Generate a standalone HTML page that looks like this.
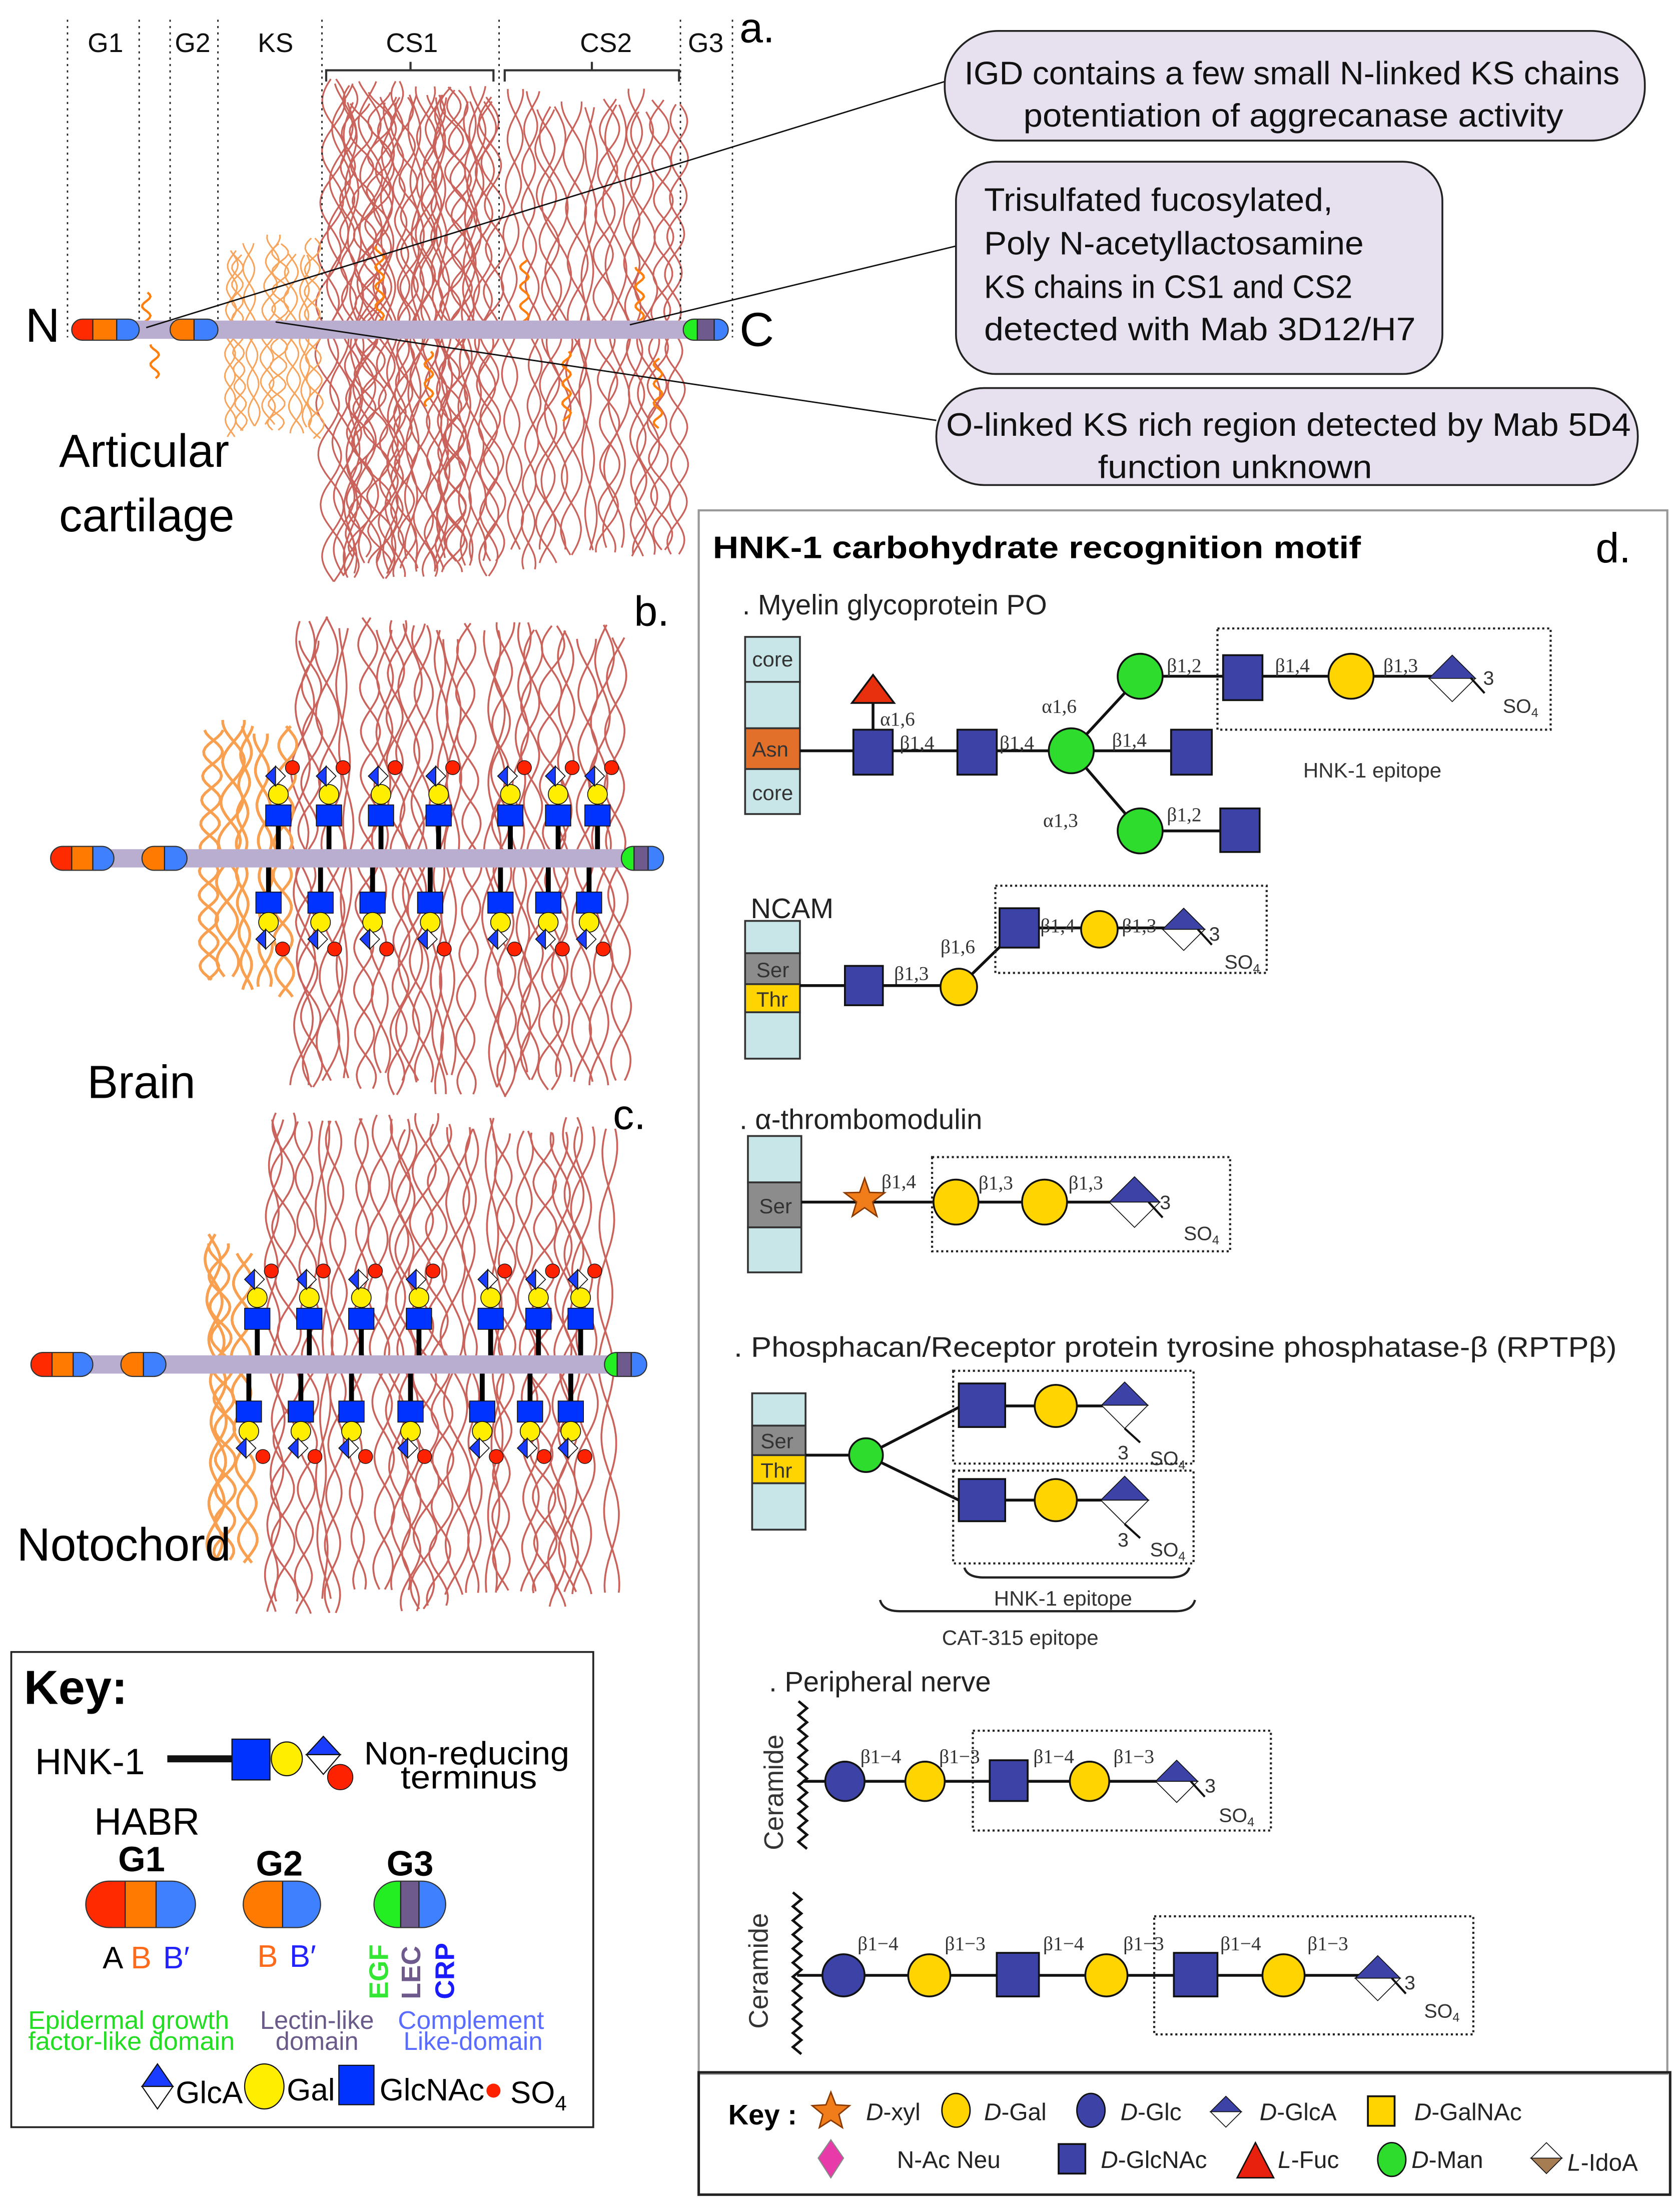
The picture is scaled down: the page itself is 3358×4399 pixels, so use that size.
<!DOCTYPE html>
<html><head><meta charset="utf-8"><style>html,body{margin:0;padding:0;background:#fff}svg{display:block}</style></head>
<body>
<svg id="s" xmlns="http://www.w3.org/2000/svg" width="3358" height="4399" viewBox="0 0 1195 1565.5" font-family="'Liberation Sans', sans-serif">
<rect width="1195" height="1565.5" fill="#fff"/>
<g id="strands"></g>
<g stroke="#222" stroke-width="1" stroke-dasharray="1.5 3">
<line x1="48" y1="14" x2="48" y2="240"/><line x1="99" y1="14" x2="99" y2="230"/><line x1="121" y1="14" x2="121" y2="230"/><line x1="155" y1="14" x2="155" y2="240"/><line x1="229" y1="14" x2="229" y2="240"/><line x1="355" y1="14" x2="355" y2="240"/><line x1="484" y1="14" x2="484" y2="240"/><line x1="521" y1="14" x2="521" y2="240"/>
</g>
<g font-size="19" fill="#111" text-anchor="middle">
<text x="75" y="37">G1</text><text x="137" y="37">G2</text><text x="196" y="37">KS</text><text x="293" y="37">CS1</text><text x="431" y="37">CS2</text><text x="502" y="37">G3</text>
</g>
<text x="526" y="30" font-size="30">a.</text>
<path d="M232 58 V50 H351 V58 M292 50 V44" fill="none" stroke="#333" stroke-width="1.5"/>
<path d="M359 58 V50 H483 V58 M421 50 V44" fill="none" stroke="#333" stroke-width="1.5"/>
<g id="bars"></g>
<text x="18" y="243" font-size="34">N</text>
<text x="526" y="246" font-size="34">C</text>
<text x="42" y="332" font-size="33">Articular</text>
<text x="42" y="378" font-size="33">cartilage</text>
<g stroke="#111" stroke-width="1"><line x1="104" y1="233" x2="672" y2="58"/><line x1="448" y1="231" x2="680" y2="175"/><line x1="196" y1="229" x2="666" y2="299"/></g>
<g fill="#e7e1ef" stroke="#222" stroke-width="1.3">
<rect x="672" y="22" width="498" height="78" rx="38"/>
<rect x="680" y="115" width="346" height="151" rx="28"/>
<rect x="666" y="276" width="499" height="69" rx="34"/>
</g>
<g font-size="23" fill="#111">
<text x="686" y="60" textLength="466" lengthAdjust="spacingAndGlyphs">IGD contains a few small N-linked KS chains</text>
<text x="728" y="90" textLength="384" lengthAdjust="spacingAndGlyphs">potentiation of aggrecanase activity</text>
<text x="700" y="150" textLength="248" lengthAdjust="spacingAndGlyphs">Trisulfated fucosylated,</text>
<text x="700" y="181" textLength="270" lengthAdjust="spacingAndGlyphs">Poly N-acetyllactosamine</text>
<text x="700" y="212" textLength="262" lengthAdjust="spacingAndGlyphs">KS chains in CS1 and CS2</text>
<text x="700" y="242" textLength="307" lengthAdjust="spacingAndGlyphs">detected with Mab 3D12/H7</text>
<text x="673" y="310" textLength="487" lengthAdjust="spacingAndGlyphs">O-linked KS rich region detected by Mab 5D4</text>
<text x="781" y="340" textLength="195" lengthAdjust="spacingAndGlyphs">function unknown</text>
</g>
<text x="451" y="445" font-size="30">b.</text>
<text x="62" y="781" font-size="33">Brain</text>
<text x="436" y="803" font-size="30">c.</text>
<text x="12" y="1110" font-size="33">Notochord</text>
<g id="units"></g>

<rect x="8" y="1175" width="414" height="338" fill="none" stroke="#222" stroke-width="1.3"/>
<text x="17" y="1212" font-size="34" font-weight="bold">Key:</text>
<text x="25" y="1262" font-size="26">HNK-1</text>
<line x1="119" y1="1251" x2="166" y2="1251" stroke="#111" stroke-width="5"/>
<rect x="165" y="1237" width="27" height="29" fill="#0033ff" stroke="#111" stroke-width="0.8"/>
<ellipse cx="204" cy="1251" rx="11" ry="12" fill="#ffee00" stroke="#111" stroke-width="0.8"/>
<path d="M218 1248 L230 1235 L242 1248 Z" fill="#1a3cff" stroke="#111" stroke-width="0.8"/>
<path d="M218 1248 L230 1262 L242 1248 Z" fill="#fff" stroke="#111" stroke-width="0.8"/>
<circle cx="242" cy="1264" r="9" fill="#ff2200" stroke="#111" stroke-width="0.6"/>
<text x="259" y="1255" font-size="23" textLength="146" lengthAdjust="spacingAndGlyphs">Non-reducing</text>
<text x="285" y="1272" font-size="23" textLength="97" lengthAdjust="spacingAndGlyphs">terminus</text>
<text x="67" y="1305" font-size="27">HABR</text>
<g font-size="25" font-weight="bold"><text x="84" y="1331">G1</text><text x="182" y="1334">G2</text><text x="275" y="1334">G3</text></g>
<g font-size="22"><text x="73" y="1400">A</text><text x="93" y="1400" fill="#ff6a1a">B</text><text x="116" y="1400" fill="#2222ff">B′</text><text x="183" y="1399" fill="#ff6a1a">B</text><text x="206" y="1399" fill="#2222ff">B′</text></g>
<g font-size="19" font-weight="bold">
<text transform="translate(276 1422) rotate(-90)" fill="#33e633">EGF</text>
<text transform="translate(299 1422) rotate(-90)" fill="#6f5a8e">LEC</text>
<text transform="translate(323 1422) rotate(-90)" fill="#1a1aff">CRP</text>
</g>
<g font-size="18">
<text x="20" y="1443" fill="#22dd22" textLength="143" lengthAdjust="spacingAndGlyphs">Epidermal growth</text>
<text x="20" y="1458" fill="#22dd22" textLength="147" lengthAdjust="spacingAndGlyphs">factor-like domain</text>
<text x="185" y="1443" fill="#6a5a8a" textLength="81" lengthAdjust="spacingAndGlyphs">Lectin-like</text>
<text x="196" y="1458" fill="#6a5a8a">domain</text>
<text x="283" y="1443" fill="#5a6cff" textLength="104" lengthAdjust="spacingAndGlyphs">Complement</text>
<text x="287" y="1458" fill="#5a6cff" textLength="99" lengthAdjust="spacingAndGlyphs">Like-domain</text>
</g>
<path d="M101 1484 L112 1468 L123 1484 Z" fill="#1a3cff" stroke="#111" stroke-width="0.8"/>
<path d="M101 1484 L112 1500 L123 1484 Z" fill="#fff" stroke="#111" stroke-width="0.8"/>
<ellipse cx="188" cy="1484" rx="14" ry="16" fill="#ffee00" stroke="#111" stroke-width="0.8"/>
<rect x="241" y="1469" width="25" height="28" fill="#0033ff" stroke="#111" stroke-width="0.8"/>
<circle cx="351" cy="1487" r="5" fill="#ff2200"/>
<g font-size="22"><text x="125" y="1496">GlcA</text><text x="204" y="1494">Gal</text><text x="270" y="1494">GlcNAc</text><text x="363" y="1496">SO<tspan font-size="15" dy="5">4</tspan></text></g>

<rect x="497" y="363" width="689" height="1112" fill="none" stroke="#999" stroke-width="1.5"/>
<rect x="497" y="1474" width="691" height="87" fill="none" stroke="#222" stroke-width="1.8"/>
<text x="507" y="397" font-size="22" font-weight="bold" textLength="461" lengthAdjust="spacingAndGlyphs">HNK-1 carbohydrate recognition motif</text>
<text x="1135" y="400" font-size="30">d.</text>
<g font-size="20" fill="#222">
<text x="528" y="437">. Myelin glycoprotein PO</text>
<text x="534" y="653">NCAM</text>
<text x="526" y="803">. α-thrombomodulin</text>
<text x="522" y="965" textLength="628" lengthAdjust="spacingAndGlyphs">. Phosphacan/Receptor protein tyrosine phosphatase-β (RPTPβ)</text>
<text x="547" y="1203">. Peripheral nerve</text>
</g>
<g id="dshapes"></g>
<g font-family="'Liberation Serif', serif" font-size="14" fill="#333">
<text x="626" y="516">α1,6</text><text x="640" y="533">β1,4</text><text x="711" y="533">β1,4</text>
<text x="741" y="507">α1,6</text><text x="742" y="588">α1,3</text><text x="791" y="531">β1,4</text>
<text x="830" y="478">β1,2</text><text x="907" y="478">β1,4</text><text x="984" y="478">β1,3</text>
<text x="830" y="584">β1,2</text>
<text x="636" y="697">β1,3</text><text x="669" y="678">β1,6</text><text x="740" y="663">β1,4</text><text x="798" y="663">β1,3</text>
<text x="627" y="845">β1,4</text><text x="696" y="846">β1,3</text><text x="760" y="846">β1,3</text>
<text x="612" y="1254">β1−4</text><text x="668" y="1254">β1−3</text><text x="735" y="1254">β1−4</text><text x="792" y="1254">β1−3</text>
<text x="610" y="1387">β1−4</text><text x="672" y="1387">β1−3</text><text x="742" y="1387">β1−4</text><text x="799" y="1387">β1−3</text><text x="868" y="1387">β1−4</text><text x="930" y="1387">β1−3</text>
</g>
<g font-size="14" fill="#333">
<text x="1055" y="487">3</text><text x="1069" y="507">SO<tspan font-size="9" dy="3">4</tspan></text>
<text x="860" y="669">3</text><text x="871" y="689">SO<tspan font-size="9" dy="3">4</tspan></text>
<text x="825" y="860">3</text><text x="842" y="882">SO<tspan font-size="9" dy="3">4</tspan></text>
<text x="795" y="1038">3</text><text x="818" y="1042">SO<tspan font-size="9" dy="3">4</tspan></text>
<text x="795" y="1100">3</text><text x="818" y="1107">SO<tspan font-size="9" dy="3">4</tspan></text>
<text x="857" y="1275">3</text><text x="867" y="1296">SO<tspan font-size="9" dy="3">4</tspan></text>
<text x="999" y="1415">3</text><text x="1013" y="1435">SO<tspan font-size="9" dy="3">4</tspan></text>
<text x="927" y="553" font-size="15">HNK-1 epitope</text>
<text x="707" y="1142" font-size="15">HNK-1 epitope</text>
<text x="670" y="1170" font-size="15">CAT-315 epitope</text>
<text x="535" y="474" font-size="15">core</text><text x="535" y="538" font-size="15">Asn</text><text x="535" y="569" font-size="15">core</text>
<text x="538" y="695" font-size="15">Ser</text><text x="538" y="716" font-size="15">Thr</text>
<text x="540" y="863" font-size="15">Ser</text>
<text x="541" y="1030" font-size="15">Ser</text><text x="541" y="1051" font-size="15">Thr</text>
<text transform="translate(557 1316) rotate(-90)" font-size="19">Ceramide</text>
<text transform="translate(546 1443) rotate(-90)" font-size="19">Ceramide</text>
</g>
<text x="518" y="1511" font-size="20" font-weight="bold">Key :</text>
<g font-size="17" fill="#222">
<text x="616" y="1508"><tspan font-style="italic">D</tspan>-xyl</text>
<text x="700" y="1508"><tspan font-style="italic">D</tspan>-Gal</text>
<text x="797" y="1508"><tspan font-style="italic">D</tspan>-Glc</text>
<text x="896" y="1508"><tspan font-style="italic">D</tspan>-GlcA</text>
<text x="1006" y="1508"><tspan font-style="italic">D</tspan>-GalNAc</text>
<text x="638" y="1542">N-Ac Neu</text>
<text x="783" y="1542"><tspan font-style="italic">D</tspan>-GlcNAc</text>
<text x="909" y="1542"><tspan font-style="italic">L</tspan>-Fuc</text>
<text x="1004" y="1542"><tspan font-style="italic">D</tspan>-Man</text>
<text x="1115" y="1544"><tspan font-style="italic">L</tspan>-IdoA</text>
</g>
</svg>
<script>
const NS='http://www.w3.org/2000/svg';
function el(t,a,p){const e=document.createElementNS(NS,t);for(const k in a)e.setAttribute(k,a[k]);p.appendChild(e);return e;}
let seed=12345;function rnd(){seed=(seed*16807)%2147483647;return seed/2147483647;}
const S=document.getElementById('strands');
function braid(x1,x2,y1,y2,n,amp,wl,col,sw){
 for(let i=0;i<n;i++){
  const x0=x1+(x2-x1)*(i+0.5)/n+(rnd()-0.5)*(x2-x1)/n*0.8;
  const L=wl*(0.7+0.6*rnd()),A=amp*(0.5+0.7*rnd()),ph=rnd()*6.28;
  const ya=y1+rnd()*18,yb=y2-rnd()*18,dr=rnd()*6;
  for(const k of [0,Math.PI]){
   let d='';
   for(let y=ya;y<=yb;y+=2.5){const x=x0+A*Math.sin(2*Math.PI*(y-ya)/L+ph+k)+2.5*Math.sin(y/(30+dr*5)+i);d+=(d?'L':'M')+x.toFixed(1)+' '+y.toFixed(1);}
   el('path',{d:d,stroke:col,'stroke-width':sw,fill:'none'},S);
  }
 }
}
function squig(x,y1,y2){let d='';for(let y=y1;y<=y2;y+=1.5){d+=(d?'L':'M')+(x+3*Math.sin(y/2.2)).toFixed(1)+' '+y.toFixed(1);}el('path',{d:d,stroke:'#ff7f0e','stroke-width':1.6,fill:'none'},S);}
const RED='#c9635b',ORG='#f7a55c';
braid(234,352,56,415,22,7,60,RED,1.2);
braid(362,488,62,408,12,8,75,RED,1.2);
braid(160,232,166,314,8,6,32,ORG,1.1);
braid(207,442,438,782,21,7,80,RED,1.3);
braid(190,438,790,1150,21,7,80,RED,1.3);
braid(140,205,510,710,5,7,45,'#f8a050',2);
braid(145,180,875,1120,3,6,45,'#f8a050',2);
[[104,208,240],[110,245,270],[270,175,230],[305,250,290],[373,185,230],[455,190,230],[403,250,300],[468,255,305]].forEach(s=>squig(s[0],s[1],s[2]));
const B=document.getElementById('bars');
let cid=0;
function capsule(x1,x2,y1,y2,cuts,cols,par){
 const id='c'+(cid++);const h=y2-y1;
 const cp=el('clipPath',{id:id},par);el('rect',{x:x1,y:y1,width:x2-x1,height:h,rx:h/2},cp);
 const g=el('g',{'clip-path':'url(#'+id+')'},par);
 const xs=[x1].concat(cuts,[x2]);
 for(let i=0;i<cols.length;i++)el('rect',{x:xs[i],y:y1,width:xs[i+1]-xs[i],height:h,fill:cols[i]},g);
 for(const c of cuts)el('line',{x1:c,y1:y1,x2:c,y2:y2,stroke:'#222','stroke-width':0.8},par);
 el('rect',{x:x1,y:y1,width:x2-x1,height:h,rx:h/2,fill:'none',stroke:'#333','stroke-width':0.8},par);
}
const R='#ff2a00',O='#ff7a00',BL='#3f80ff',GR='#22ee22',PU='#6f5a8e',LAV='#b9aed0';
el('rect',{x:95,y:228,width:395,height:13,fill:LAV},B);
capsule(51,99,227,242,[66,83],[R,O,BL],B);capsule(121,155,227,242,[138],[O,BL],B);capsule(486,518,227,242,[496,508],[GR,PU,BL],B);
el('rect',{x:60,y:604,width:385,height:13,fill:LAV},B);
capsule(36,81,602,619,[51,66],[R,O,BL],B);capsule(101,133,602,619,[117],[O,BL],B);capsule(442,472,602,619,[451,461],[GR,PU,BL],B);
el('rect',{x:45,y:964,width:390,height:13,fill:LAV},B);
capsule(22,66,962,979,[37,52],[R,O,BL],B);capsule(86,118,962,979,[102],[O,BL],B);capsule(430,460,962,979,[439,449],[GR,PU,BL],B);
capsule(61,139,1338,1371,[89,111],[R,O,BL],B);capsule(173,228,1338,1371,[201],[O,BL],B);capsule(266,317,1338,1371,[285,298],[GR,PU,BL],B);
const U=document.getElementById('units');
function gA(cx,cy,s,top,bot,p){el('path',{d:'M'+(cx-s)+' '+cy+'L'+cx+' '+(cy-s)+'L'+(cx+s)+' '+cy+'Z',fill:top,stroke:'#111','stroke-width':0.6},p);el('path',{d:'M'+(cx-s)+' '+cy+'L'+cx+' '+(cy+s)+'L'+(cx+s)+' '+cy+'Z',fill:bot,stroke:'#111','stroke-width':0.6},p);}
function gL(cx,cy,s,p){el('path',{d:'M'+(cx-s)+' '+cy+'L'+cx+' '+(cy-s)+'L'+cx+' '+(cy+s)+'Z',fill:'#1a3cff',stroke:'#111','stroke-width':0.6},p);el('path',{d:'M'+(cx+s)+' '+cy+'L'+cx+' '+(cy-s)+'L'+cx+' '+(cy+s)+'Z',fill:'#fff',stroke:'#111','stroke-width':0.6},p);}
function unit(x,bar,sq,ci,di,dot){
 el('line',{x1:x,y1:bar,x2:x,y2:sq,stroke:'#000','stroke-width':3.5},U);
 el('rect',{x:x-9,y:sq-7.5,width:18,height:15,fill:'#0033ff',stroke:'#111','stroke-width':0.6},U);
 el('circle',{cx:x,cy:ci,r:7,fill:'#ffee00',stroke:'#111','stroke-width':0.6},U);
 gL(x-2,di,7,U);
 el('circle',{cx:x+10,cy:dot,r:5,fill:'#ff2200',stroke:'#111','stroke-width':0.5},U);
}
[198,234,271,312,363,397,425].forEach(x=>unit(x,604,580,565,552,546));
[191,228,265,306,356,390,419].forEach(x=>unit(x,617,642,656,668,675));
[183,220,257,298,349,383,413].forEach(x=>unit(x,964,938,923,910,904));
[177,214,250,292,343,377,406].forEach(x=>unit(x,977,1004,1018,1030,1036));
const D=document.getElementById('dshapes');
const SB='#3d43a6',SY='#ffd400',SG='#2ddc2d',CY='#c8e6e8';
function ln(x1,y1,x2,y2,w){el('line',{x1:x1,y1:y1,x2:x2,y2:y2,stroke:'#111','stroke-width':w||2},D);}
function sq(x,y,w,h,f){el('rect',{x:x,y:y,width:w,height:h,fill:f||SB,stroke:'#111','stroke-width':1.3},D);}
function ci(x,y,r,f){el('ellipse',{cx:x,cy:y,rx:r,ry:r,fill:f,stroke:'#111','stroke-width':1.3},D);}
function dia(x,y1,y2){const s=(y2-y1)/2,cy=(y1+y2)/2;gA(x,cy,s,SB,'#fff',D);}
function dbox(x1,y1,x2,y2){el('rect',{x:x1,y:y1,width:x2-x1,height:y2-y1,fill:'none',stroke:'#222','stroke-width':1.5,'stroke-dasharray':'1.5 2'},D);}
function col(x1,x2,segs){for(const s of segs)el('rect',{x:x1,y:s[0],width:x2-x1,height:s[1]-s[0],fill:s[2],stroke:'#333','stroke-width':1.3},D);}
function so(x,y){ln(x,y,x+10,y+11,1.5);}
function star(cx,cy,R1,R2){let d='';for(let i=0;i<10;i++){const r=i%2?R2:R1,a=-Math.PI/2+i*Math.PI/5;d+=(i?'L':'M')+(cx+r*Math.cos(a)).toFixed(1)+' '+(cy+r*Math.sin(a)).toFixed(1);}el('path',{d:d+'Z',fill:'#f07d1a',stroke:'#8a3a00','stroke-width':1},D);}
col(530,569,[[453,485,CY],[485,518,CY],[518,547,'#e2702a'],[547,579,CY]]);
ln(569,534,833,534);ln(621,519,621,500);
el('path',{d:'M606 500 L621 480 L636 500 Z',fill:'#e8300e',stroke:'#111','stroke-width':1.3},D);
ln(762,534,811,481);ln(762,534,811,591);ln(811,481,1040,481);ln(811,591,870,591);
sq(607,519,28,32);sq(681,519,28,32);ci(762,534,16,SG);sq(833,519,29,32);
ci(811,481,16,SG);ci(811,591,16,SG);sq(870,466,28,32);ci(961,481,16,SY);dia(1033,466,499);so(1046,482);sq(868,575,28,31);
dbox(866,447,1103,519);
col(530,569,[[655,678,CY],[678,700,'#8c8c8c'],[700,720,SY],[720,753,CY]]);
ln(569,701,682,701);ln(682,702,725,660);ln(725,660,842,660);
sq(601,687,27,28);ci(682,702,13,SY);sq(711,646,28,28);ci(782,661,13,SY);dia(842,646,676);so(852,661);
dbox(708,630,901,692);
col(532,570,[[808,841,CY],[841,873,'#8c8c8c'],[873,905,CY]]);
ln(570,855,800,855);
star(615,853,15,6);
ci(680,855,16,SY);ci(743,855,16,SY);dia(807,837,873);so(817,855);
dbox(663,823,875,890);
col(535,573,[[991,1014,CY],[1014,1035,'#8c8c8c'],[1035,1055,SY],[1055,1088,CY]]);
ln(573,1035,616,1035);ln(616,1035,682,1001);ln(616,1035,682,1067);ln(682,1000,812,1000);ln(682,1067,812,1067);
ci(616,1035,12,SG);sq(682,984,33,31);ci(751,1000,15,SY);dia(800,983,1016);ln(800,1016,811,1026,1.5);
sq(682,1052,33,30);ci(751,1067,15,SY);dia(800,1050,1084);ln(800,1084,811,1094,1.5);
dbox(678,975,849,1041);dbox(678,1046,849,1112);
el('path',{d:'M686 1115 Q688 1122 700 1122 H832 Q844 1122 846 1115',fill:'none',stroke:'#222','stroke-width':1.6},D);
el('path',{d:'M626 1138 Q628 1146 640 1146 H836 Q848 1146 850 1138',fill:'none',stroke:'#222','stroke-width':1.6},D);
function wav(x,y1,y2){let d='';let k=0;for(let y=y1;y<=y2;y+=5){d+=(d?'L':'M')+(x+(k++%2?3:-3))+' '+y;}el('path',{d:d,fill:'none',stroke:'#111','stroke-width':1.8},D);}
wav(571,1210,1318);ln(571,1267,845,1267);
ci(601,1267,14,SB);ci(658,1267,14,SY);sq(704,1252,27,29);ci(775,1267,14,SY);dia(837,1252,1282);so(847,1267);
dbox(692,1231,904,1302);
wav(567,1346,1463);ln(567,1405,985,1405);
ci(600,1405,15,SB);ci(661,1405,15,SY);sq(709,1389,30,31);ci(787,1405,15,SY);sq(835,1389,31,31);ci(913,1405,15,SY);dia(980,1391,1423);so(990,1407);
dbox(821,1363,1048,1447);
star(591,1502,14,6);
el('ellipse',{cx:680,cy:1501,rx:10,ry:12,fill:SY,stroke:'#111','stroke-width':1},D);
el('ellipse',{cx:776,cy:1501,rx:10,ry:12,fill:SB,stroke:'#111','stroke-width':1},D);
gA(872,1502,11,SB,'#fff',D);
sq(973,1491,19,21,SY);
el('path',{d:'M591 1522 L600 1535 L591 1549 L582 1535 Z',fill:'#e83aa8',stroke:'#888','stroke-width':0.8},D);
sq(753,1525,19,21,SB);
el('path',{d:'M880 1549 L893 1524 L906 1549 Z',fill:'#e8200e',stroke:'#111','stroke-width':1},D);
el('ellipse',{cx:990,cy:1536,rx:10,ry:12,fill:SG,stroke:'#111','stroke-width':1},D);
gA(1100,1535,11,'#fff','#a67c52',D);
</script>
</body></html>
